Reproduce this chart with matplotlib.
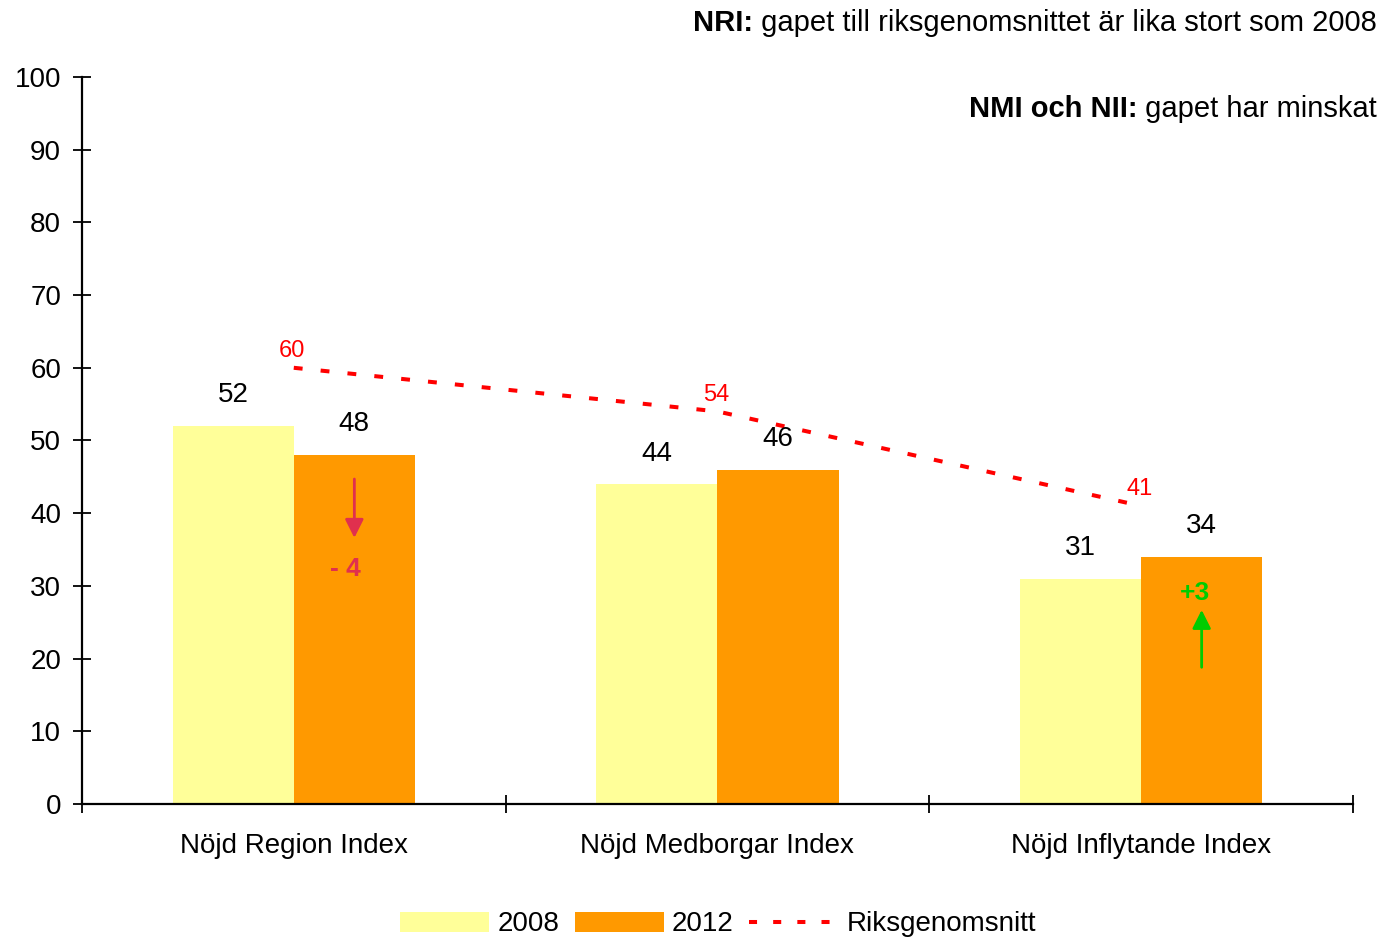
import matplotlib
matplotlib.use("Agg")
import matplotlib.pyplot as plt
import numpy as np
from matplotlib.lines import Line2D
from matplotlib.patches import Patch

plt.rcParams["font.family"] = ["Liberation Sans", "DejaVu Sans"]

categories = ["Nöjd Region Index", "Nöjd Medborgar Index", "Nöjd Inflytande Index"]
values_2008 = [52, 44, 31]
values_2012 = [48, 46, 34]
riks = [60, 54, 41]
yticks = list(range(0, 101, 10))

COL_2008 = "#FFFF99"
COL_2012 = "#FF9900"
COL_RIKS = "#FF0000"
COL_DOWN = "#E0304E"
COL_UP = "#00CC00"
FS = 20

fig = plt.figure(figsize=(13.89, 9.39), dpi=100)
ax = fig.add_axes([0.059, 0.1438, 0.915, 0.7742])

x = np.arange(len(categories))
w = 0.286
ax.bar(x - w / 2, values_2008, width=w, color=COL_2008, linewidth=0)
ax.bar(x + w / 2, values_2012, width=w, color=COL_2012, linewidth=0)
ax.plot(x, riks, color=COL_RIKS, linewidth=2.9, dashes=(2.2, 4.5))

# value labels on bars
for xi, v in zip(x - w / 2, values_2008):
    ax.annotate(str(v), (xi, v), xytext=(0, 22), textcoords="offset points",
                ha="center", va="center", fontsize=FS)
for xi, v in zip(x + w / 2, values_2012):
    ax.annotate(str(v), (xi, v), xytext=(0, 22), textcoords="offset points",
                ha="center", va="center", fontsize=FS)
for xi, v in zip(x, riks):
    ax.annotate(str(v), (xi, v), xytext=(-1, 12), textcoords="offset points",
                ha="center", va="center", fontsize=17, color=COL_RIKS)

# change arrows
ax.annotate("", xy=(0 + w / 2, 36.6), xytext=(0 + w / 2, 44.7),
            arrowprops=dict(arrowstyle="-|>", color=COL_DOWN, lw=2,
                            mutation_scale=28, shrinkA=0, shrinkB=0))
ax.text(0 + w / 2 - 0.022, 32.3, "- 4", ha="center", va="center",
        fontsize=19, fontweight="bold", color=COL_DOWN)
ax.annotate("", xy=(2 + w / 2, 26.7), xytext=(2 + w / 2, 18.8),
            arrowprops=dict(arrowstyle="-|>", color=COL_UP, lw=2,
                            mutation_scale=28, shrinkA=0, shrinkB=0))
ax.text(2 + w / 2 - 0.015, 29.0, "+3", ha="center", va="center",
        fontsize=19, fontweight="bold", color=COL_UP)

ax.set_xlim(-0.5, 2.5)
ax.set_ylim(0, 100)
ax.set_yticks(yticks)
ax.set_xticks([-0.5, 0.5, 1.5, 2.5])
ax.set_xticklabels([])
ax.set_xticks(x, minor=True)
ax.set_xticklabels(categories, minor=True, fontsize=FS)
ax.tick_params(axis="x", which="minor", length=0, pad=21)
ax.tick_params(axis="x", which="major", direction="inout", length=13, width=1.3)
ax.tick_params(axis="y", direction="inout", length=13, width=1.3, pad=8.5, labelsize=FS)
for s in ["top", "right"]:
    ax.spines[s].set_visible(False)
for s in ["left", "bottom"]:
    ax.spines[s].set_linewidth(1.6)

# top-right notes with bold prefix
fig.canvas.draw()
renderer = fig.canvas.get_renderer()
notes = [("NRI:", " gapet till riksgenomsnittet är lika stort som 2008", 0.976),
         ("NMI och NII:", " gapet har minskat", 0.884)]
for bold, rest, yy in notes:
    t = fig.text(0.9915, yy, rest, ha="right", va="center", fontsize=21)
    bb = t.get_window_extent(renderer)
    fig.text(bb.x0 / fig.bbox.width, yy, bold, ha="right", va="center",
             fontsize=21, fontweight="bold")

handles = [Patch(facecolor=COL_2008, edgecolor="none", label="2008"),
           Patch(facecolor=COL_2012, edgecolor="none", label="2012"),
           Line2D([0], [0], color=COL_RIKS, linewidth=2.9, dashes=(2, 4),
                  label="Riksgenomsnitt")]
fig.legend(handles=handles, loc="lower center", bbox_to_anchor=(0.517, -0.025),
           ncol=3, frameon=False, fontsize=FS, handlelength=3.2,
           handleheight=0.75, handletextpad=0.3, columnspacing=0.55)

fig.savefig("out.png", dpi=100)
